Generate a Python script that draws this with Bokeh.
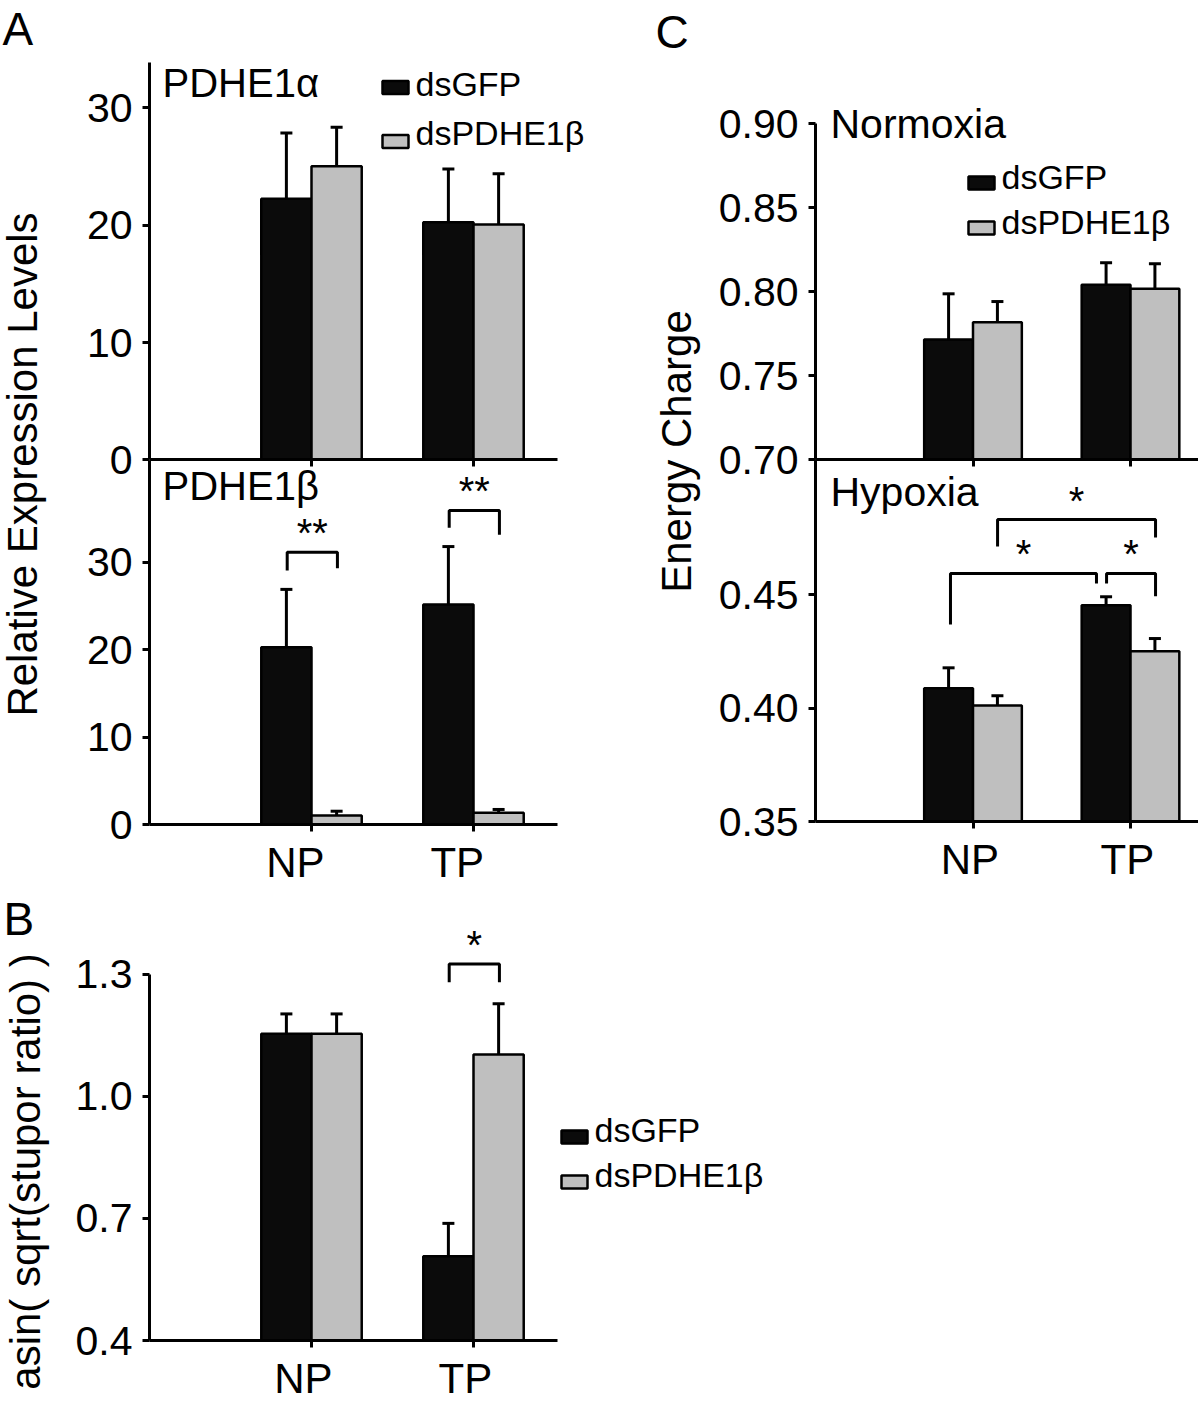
import math
from bokeh.plotting import figure
from bokeh.models import (Range1d, LinearAxis, FixedTicker, PrintfTickFormatter,
                          CustomJSTickFormatter)
from bokeh.core.properties import value
from bokeh.embed import file_html
from bokeh.resources import INLINE

# ---------------- data ----------------
categories = ["NP", "TP"]
series_names = ["dsGFP", "dsPDHE1β"]

# A (top): PDHE1α relative expression
a1_gfp = [22.25, 20.26]
a1_gfp_err = [5.60, 4.54]
a1_pdh = [25.03, 20.06]
a1_pdh_err = [3.33, 4.32]
a1_ticks = [0, 10, 20, 30]

# A (bottom): PDHE1β relative expression
a2_gfp = [20.29, 25.17]
a2_gfp_err = [6.61, 6.63]
a2_pdh = [1.03, 1.34]
a2_pdh_err = [0.49, 0.38]
a2_ticks = [0, 10, 20, 30]
a2_brk_x0 = [0.85, 1.85]
a2_brk_x1 = [1.16, 2.16]
a2_brk_y = [31.16, 35.93]
a2_brk_y0 = [29.06, 33.95]
a2_brk_y1 = [29.33, 33.15]
a2_brk_txt = ["**", "**"]

# B: asin(sqrt(stupor ratio))
b_gfp = [1.154, 0.607]
b_gfp_err = [0.049, 0.081]
b_pdh = [1.154, 1.103]
b_pdh_err = [0.049, 0.125]
b_ticks = [0.4, 0.7, 1.0, 1.3]
b_brk_x0 = [1.85]
b_brk_x1 = [2.16]
b_brk_y = [1.326]
b_brk_y0 = [1.281]
b_brk_y1 = [1.281]
b_brk_txt = ["*"]

# C (top): Normoxia energy charge
c1_gfp = [0.7716, 0.8042]
c1_gfp_err = [0.0272, 0.0131]
c1_pdh = [0.7819, 0.8018]
c1_pdh_err = [0.0123, 0.0149]
c1_ticks = [0.70, 0.75, 0.80, 0.85, 0.90]

# C (bottom): Hypoxia energy charge
c2_gfp = [0.4087, 0.4453]
c2_gfp_err = [0.0090, 0.0037]
c2_pdh = [0.4011, 0.4250]
c2_pdh_err = [0.0043, 0.0056]
c2_ticks = [0.35, 0.40, 0.45]
c2_brk_x0 = [0.857, 1.848, 1.156]
c2_brk_x1 = [1.784, 2.159, 2.159]
c2_brk_y = [0.4593, 0.4593, 0.4830]
c2_brk_y0 = [0.4368, 0.4549, 0.4711]
c2_brk_y1 = [0.4549, 0.4492, 0.4751]
c2_brk_txt = ["*", "*", "*"]

# ---------------- layout / style ----------------
W, H = 1198, 1404
OX, OY = 0, 0
FONT = "Liberation Sans"
BLACK = "#0b0b0b"
GRAY = "#bfbfbf"
BW = 0.31
TICK_FS = "41px"
K_H = 0.40   # baseline correction (fraction of font size) for horizontal text
K_V = 0.35   # baseline correction for rotated text

p = figure(width=W, height=H, x_range=Range1d(OX, OX + W), y_range=Range1d(OY + H, OY),
           output_backend="svg", toolbar_location=None, min_border=0,
           x_axis_location=None, y_axis_location=None, title=None)
p.outline_line_color = None
p.grid.grid_line_color = None
p.background_fill_color = "white"
p.border_fill_color = "white"


def xr(px0, k):
    return Range1d(start=(OX - px0) / k, end=(OX + W - px0) / k)


def yr(v0, py0, k):
    return Range1d(start=v0 - (OY + H - py0) / k, end=v0 + (py0 - OY) / k)


KXA, KXC = 162.0, 157.5
p.extra_x_ranges = {"xa": xr(149, KXA), "xc": xr(815, KXC)}
p.extra_y_ranges = {
    "ya1": yr(0, 459.3, 11.73),
    "ya2": yr(0, 824, 8.74),
    "yb": yr(0.4, 1340, 406.7),
    "yc1": yr(0.70, 459.3, 1680),
    "yc2": yr(0.35, 821, 2270),
}


def bars(xn, yn, base, kx, gfp, gfp_err, pdh, pdh_err):
    idx = [i + 1 for i in range(len(categories))]
    cap = 6.0 / kx
    for vals, errs, fill, sign in ((gfp, gfp_err, BLACK, -1), (pdh, pdh_err, GRAY, 1)):
        xs = [i + sign * BW / 2 for i in idx]
        tops = [v + e for v, e in zip(vals, errs)]
        p.segment(x0=xs, y0=vals, x1=xs, y1=tops, line_color="black", line_width=3,
                  x_range_name=xn, y_range_name=yn)
        p.segment(x0=[x - cap for x in xs], y0=tops, x1=[x + cap for x in xs], y1=tops,
                  line_color="black", line_width=3, x_range_name=xn, y_range_name=yn)
        p.vbar(x=xs, width=BW, bottom=base, top=vals, fill_color=fill,
               line_color="black", line_width=2.5, x_range_name=xn, y_range_name=yn)


def yaxis(xn, yn, lo, hi, ticks, fmt):
    ax = LinearAxis(x_range_name=xn, y_range_name=yn, fixed_location=0, bounds=(lo, hi),
                    ticker=FixedTicker(ticks=ticks), formatter=PrintfTickFormatter(format=fmt),
                    axis_line_width=3, axis_line_color="black",
                    major_tick_line_width=3, major_tick_out=7, major_tick_in=0,
                    minor_tick_line_color=None, major_label_standoff=10,
                    major_label_text_font=FONT, major_label_text_font_size=TICK_FS,
                    major_label_text_color="black")
    p.add_layout(ax, "left")


def xaxis(xn, yn, base, hi, labels, off):
    ax = LinearAxis(x_range_name=xn, y_range_name=yn, fixed_location=base, bounds=(0, hi),
                    ticker=FixedTicker(ticks=[i + 1 for i in range(len(categories))]),
                    formatter=CustomJSTickFormatter(code="return '';"),
                    axis_line_width=3, axis_line_color="black",
                    major_tick_line_width=3, major_tick_out=7, major_tick_in=0,
                    minor_tick_line_color=None)
    p.add_layout(ax, "below")
    if labels:
        lab = LinearAxis(x_range_name=xn, y_range_name=yn, fixed_location=base,
                         ticker=FixedTicker(ticks=[i + 1 + off for i in range(len(categories))]),
                         formatter=CustomJSTickFormatter(args=dict(labels=categories, off=off),
                                                         code="return labels[Math.round(tick - off) - 1];"),
                         axis_line_color=None, major_tick_line_color=None,
                         major_tick_out=0, major_tick_in=0, minor_tick_line_color=None,
                         major_label_standoff=14, major_label_text_font=FONT,
                         major_label_text_font_size="42px", major_label_text_color="black")
        p.add_layout(lab, "below")


def brackets(xn, yn, x0, x1, y, y0, y1, txt):
    xs = [[a, a, b, b] for a, b in zip(x0, x1)]
    ys = [[l, m, m, r] for l, m, r in zip(y0, y, y1)]
    p.multi_line(xs=xs, ys=ys, line_color="black", line_width=3,
                 x_range_name=xn, y_range_name=yn)
    p.text(x=[(a + b) / 2 for a, b in zip(x0, x1)], y=y, text=txt,
           text_align="center", text_baseline="alphabetic", y_offset=-19,
           text_font=value(FONT), text_font_size="40px", text_color="black",
           x_range_name=xn, y_range_name=yn)


# Panel A top
bars("xa", "ya1", 0, KXA, a1_gfp, a1_gfp_err, a1_pdh, a1_pdh_err)
yaxis("xa", "ya1", 0, 33.9, a1_ticks, "%d")
xaxis("xa", "ya1", 0, 2.52, None, 0)
# Panel A bottom
bars("xa", "ya2", 0, KXA, a2_gfp, a2_gfp_err, a2_pdh, a2_pdh_err)
yaxis("xa", "ya2", 0, 41.7, a2_ticks, "%d")
xaxis("xa", "ya2", 0, 2.52, categories, -0.10)
brackets("xa", "ya2", a2_brk_x0, a2_brk_x1, a2_brk_y, a2_brk_y0, a2_brk_y1, a2_brk_txt)
# Panel B
bars("xa", "yb", 0.4, KXA, b_gfp, b_gfp_err, b_pdh, b_pdh_err)
yaxis("xa", "yb", 0.4, 1.3, b_ticks, "%.1f")
xaxis("xa", "yb", 0.4, 2.52, categories, -0.05)
brackets("xa", "yb", b_brk_x0, b_brk_x1, b_brk_y, b_brk_y0, b_brk_y1, b_brk_txt)
# Panel C top
bars("xc", "yc1", 0.70, KXC, c1_gfp, c1_gfp_err, c1_pdh, c1_pdh_err)
yaxis("xc", "yc1", 0.70, 0.90, c1_ticks, "%.2f")
xaxis("xc", "yc1", 0.70, 2.6, None, 0)
# Panel C bottom
bars("xc", "yc2", 0.35, KXC, c2_gfp, c2_gfp_err, c2_pdh, c2_pdh_err)
yaxis("xc", "yc2", 0.35, 0.5095, c2_ticks, "%.2f")
xaxis("xc", "yc2", 0.35, 2.6, categories, -0.02)
brackets("xc", "yc2", c2_brk_x0, c2_brk_x1, c2_brk_y, c2_brk_y0, c2_brk_y1, c2_brk_txt)


# ---------------- texts (page pixel coordinates) ----------------
def txt(x, y, s, fs, align="left", rotated=False):
    if rotated:
        p.text(x=[x], y=[y], text=[s], angle=math.pi / 2, text_align=align,
               text_baseline="alphabetic", x_offset=-K_V * fs, text_font=value(FONT),
               text_font_size=f"{fs}px", text_color="black")
    else:
        p.text(x=[x], y=[y], text=[s], text_align=align,
               text_baseline="alphabetic", y_offset=-K_H * fs, text_font=value(FONT),
               text_font_size=f"{fs}px", text_color="black")


txt(2, 47, "A", 46)
txt(3, 937, "B", 46)
txt(655, 50, "C", 46)
txt(162, 98, "PDHE1α", 40)
txt(162, 501, "PDHE1β", 40)
txt(830, 140, "Normoxia", 41)
txt(830, 508, "Hypoxia", 41)
txt(37, 464, "Relative Expression Levels", 42, "center", True)
txt(40, 1171, "asin( sqrt(stupor ratio) )", 42, "center", True)
txt(691, 451, "Energy Charge", 42, "center", True)


# legends (marker squares + labels)
def legend(x_sq, y_centers, baselines, fs=34):
    for name, fill, yc, yb in zip(series_names, (BLACK, GRAY), y_centers, baselines):
        p.quad(left=[x_sq], right=[x_sq + 26], top=[yc - 6.5], bottom=[yc + 6.5],
               fill_color=fill, line_color="black", line_width=2.5)
        txt(x_sq + 33, yb, name, fs)


legend(382, [87, 141], [97, 146])
legend(561, [1136.5, 1181.5], [1143, 1188])
legend(968, [182.5, 227.5], [190, 235])

open("out.html", "w").write(file_html(p, INLINE))
